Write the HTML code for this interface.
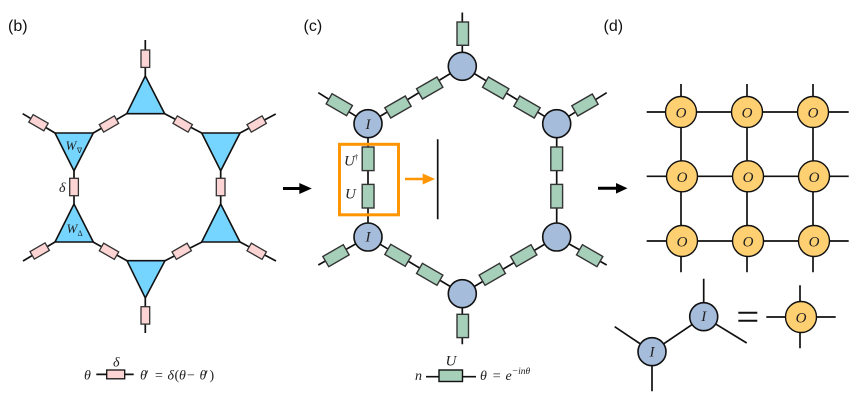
<!DOCTYPE html>
<html>
<head>
<meta charset="utf-8">
<style>
html,body{margin:0;padding:0;background:#fff;}
svg{display:block;}
.l{stroke:#111;stroke-width:1.7;fill:none;}
.tri{fill:#75d5ff;stroke:#111;stroke-width:1.6;stroke-linejoin:miter;}
.p{fill:#fdd4d4;stroke:#333;stroke-width:1.3;}
.g{fill:#a6cfb9;stroke:#333;stroke-width:1.4;}
.b{fill:#a6bcdb;stroke:#111;stroke-width:1.6;}
.o{fill:#ffd071;stroke:#111;stroke-width:1.4;}
.h{font-family:"Liberation Sans",sans-serif;font-size:16px;fill:#111;}
.m{font-family:"Liberation Serif",serif;font-style:italic;fill:#222;font-size:14px;}
.n{font-family:"Liberation Serif",serif;fill:#222;font-size:14px;}
.big{font-size:15px;}
</style>
</head>
<body>
<svg width="856" height="402" viewBox="0 0 856 402" xmlns="http://www.w3.org/2000/svg">
<text class="h" x="8" y="31">(b)</text>
<text class="h" x="303.500" y="31">(c)</text>
<text class="h" x="603.500" y="31">(d)</text>

<!-- panel b lines -->
<path class="l" d="M145.3 40V76M145.3 298V333M74 171V204M220.7 171V204M126.7 113.7L93.3 133M164.7 113.7L201.7 133M55 133L22.7 113.7M240 133L275.7 114M55 242L23 261M93 242L127 260.7M165 260.7L202 242M240 242L276 261"/>
<rect class="p" x="141" y="50" width="8.7" height="17.4"/>
<rect class="p" x="141" y="306.7" width="8.7" height="17.4"/>
<rect class="p" x="69.7" y="178.3" width="8.7" height="17.4"/>
<rect class="p" x="216.3" y="178.3" width="8.7" height="17.4"/>
<rect class="p" x="-8.7" y="-4.35" width="17.4" height="8.7" transform="translate(109 124) rotate(-30)"/>
<rect class="p" x="-8.7" y="-4.35" width="17.4" height="8.7" transform="translate(182.7 124) rotate(30)"/>
<rect class="p" x="-8.7" y="-4.35" width="17.4" height="8.7" transform="translate(38.5 122.7) rotate(30)"/>
<rect class="p" x="-8.7" y="-4.35" width="17.4" height="8.7" transform="translate(256.7 124) rotate(-30)"/>
<rect class="p" x="-8.7" y="-4.35" width="17.4" height="8.7" transform="translate(39.7 251) rotate(-30)"/>
<rect class="p" x="-8.7" y="-4.35" width="17.4" height="8.7" transform="translate(109 251.3) rotate(30)"/>
<rect class="p" x="-8.7" y="-4.35" width="17.4" height="8.7" transform="translate(181.7 251.3) rotate(-30)"/>
<rect class="p" x="-8.7" y="-4.35" width="17.4" height="8.7" transform="translate(256.7 251.3) rotate(30)"/>
<polygon class="tri" points="145.3,76 126.7,113.7 164.7,113.7"/>
<polygon class="tri" points="55,133 93.3,133 74,170.8"/>
<polygon class="tri" points="201.7,133 240,133 220.7,170.8"/>
<polygon class="tri" points="74,204 55,242 93.3,242"/>
<polygon class="tri" points="220.7,204 201.7,242 240,242"/>
<polygon class="tri" points="127,260.7 165,260.7 145.3,298"/>
<text class="m" x="65.5" y="150" style="font-size:13px">W</text>
<text class="n" x="77" y="153" style="font-size:7.500px">∇</text>
<text class="m" x="66.5" y="233" style="font-size:13px">W</text>
<text class="n" x="77.500" y="236" style="font-size:8px">Δ</text>
<text class="m" x="59" y="192">δ</text>

<!-- legend b -->
<text class="m" x="84" y="379.500">θ</text>
<path class="l" d="M96.3 374.4H133.7"/>
<rect class="p" x="106.7" y="370" width="18" height="8.8" style="stroke:#111"/>
<text class="m" x="113" y="366.500">δ</text>
<text class="m" x="140" y="379.500" style="letter-spacing:-2px">θ′</text>
<text class="n" x="155" y="379.500">=</text>
<text class="m" x="167.500" y="379.500">δ</text>
<text class="n" x="174.500" y="379.500">(</text>
<text class="m" x="179" y="379.500">θ</text>
<text class="n" x="187" y="379.500">−</text>
<text class="m" x="199.500" y="379.500" style="letter-spacing:-2px">θ′</text>
<text class="n" x="209.500" y="379.500">)</text>

<!-- black arrows -->
<path d="M283 188.500H300" stroke="#000" stroke-width="3"/>
<polygon points="299.300,183 311.800,188.500 299.300,194" fill="#000"/>
<path d="M598 188.300H617" stroke="#000" stroke-width="3"/>
<polygon points="616,183 627.500,188.300 616,193.600" fill="#000"/>

<!-- panel c lines -->
<path class="l" d="M462.300 12.500V66.300M462.300 293.700V344.300M368 123.700V237M556.700 123.700V237M368 123.700L462.300 66.300L556.700 123.700M368 237L462.300 293.700L556.700 237M318.300 92.700L368 123.700M606.700 92.700L556.700 123.700M318.300 265L368 237M606.700 265L556.700 237"/>
<rect class="g" x="457" y="22" width="11.500" height="23.300"/>
<rect class="g" x="457" y="314.300" width="11.500" height="23.300"/>
<rect class="g" x="362.200" y="147" width="11.800" height="23.600"/>
<rect class="g" x="362.200" y="184.400" width="11.800" height="23.600"/>
<rect class="g" x="550.800" y="147" width="11.800" height="23.600"/>
<rect class="g" x="550.800" y="184.400" width="11.800" height="23.600"/>
<rect class="g" x="-11.800" y="-5.900" width="23.600" height="11.800" transform="translate(398 107) rotate(-30)"/>
<rect class="g" x="-11.800" y="-5.900" width="23.600" height="11.800" transform="translate(429.700 88) rotate(-30)"/>
<rect class="g" x="-11.800" y="-5.900" width="23.600" height="11.800" transform="translate(495.700 88) rotate(30)"/>
<rect class="g" x="-11.800" y="-5.900" width="23.600" height="11.800" transform="translate(527 107) rotate(30)"/>
<rect class="g" x="-11.800" y="-5.900" width="23.600" height="11.800" transform="translate(339.300 104.700) rotate(30)"/>
<rect class="g" x="-11.800" y="-5.900" width="23.600" height="11.800" transform="translate(585 105) rotate(-30)"/>
<rect class="g" x="-11.800" y="-5.900" width="23.600" height="11.800" transform="translate(336 255.700) rotate(-30)"/>
<rect class="g" x="-11.800" y="-5.900" width="23.600" height="11.800" transform="translate(398 255.300) rotate(30)"/>
<rect class="g" x="-11.800" y="-5.900" width="23.600" height="11.800" transform="translate(429.700 274.300) rotate(30)"/>
<rect class="g" x="-11.800" y="-5.900" width="23.600" height="11.800" transform="translate(492.300 274.300) rotate(-30)"/>
<rect class="g" x="-11.800" y="-5.900" width="23.600" height="11.800" transform="translate(523.700 255.700) rotate(-30)"/>
<rect class="g" x="-11.800" y="-5.900" width="23.600" height="11.800" transform="translate(589.700 255.700) rotate(30)"/>
<circle class="b" cx="462.300" cy="66.300" r="14"/>
<circle class="b" cx="368" cy="123.700" r="14"/>
<circle class="b" cx="556.700" cy="123.700" r="14"/>
<circle class="b" cx="368" cy="237" r="14"/>
<circle class="b" cx="556.700" cy="237" r="14"/>
<circle class="b" cx="462.300" cy="293.700" r="14"/>
<text class="m big" x="368" y="129" text-anchor="middle">I</text>
<text class="m big" x="368" y="241.500" text-anchor="middle">I</text>
<text class="m big" x="344" y="165.300">U</text>
<text class="n" x="354.300" y="160" style="font-size:8px">†</text>
<text class="m big" x="345" y="198.300">U</text>
<rect x="339.500" y="144.300" width="59" height="70.500" fill="none" stroke="#ff9500" stroke-width="3"/>
<path d="M405 179H424" stroke="#ff9500" stroke-width="2.500"/>
<polygon points="422.700,173.500 435,179 422.700,184.500" fill="#ff9500"/>
<path d="M437.700 139.300V219.300" stroke="#111" stroke-width="1.700"/>

<!-- legend c -->
<text class="m" x="415" y="380">n</text>
<path class="l" d="M426 376.700H476"/>
<rect class="g" x="439" y="370" width="23.500" height="11.500" style="stroke:#111"/>
<text class="m big" x="445.500" y="365.500">U</text>
<text class="m" x="480" y="380">θ</text>
<text class="n" x="492.700" y="380">=</text>
<text class="m" x="505.500" y="380">e</text>
<text class="m" x="511.700" y="374" style="font-size:9.500px">−inθ</text>

<!-- panel d -->
<path class="l" d="M681 84V272.300M747 84V272.300M813 84V272.300M646.700 112H848.700M646.700 176.300H848.700M646.700 241H848.700"/>
<circle class="o" cx="681" cy="112" r="15.500"/>
<circle class="o" cx="747" cy="112" r="15.500"/>
<circle class="o" cx="813" cy="112" r="15.500"/>
<circle class="o" cx="682" cy="176.300" r="15.500"/>
<circle class="o" cx="748" cy="176.300" r="15.500"/>
<circle class="o" cx="814" cy="176.300" r="15.500"/>
<circle class="o" cx="682" cy="241" r="15.500"/>
<circle class="o" cx="748" cy="241" r="15.500"/>
<circle class="o" cx="814" cy="241" r="15.500"/>
<text class="m big" x="681" y="117.700" text-anchor="middle">O</text>
<text class="m big" x="747" y="117.700" text-anchor="middle">O</text>
<text class="m big" x="813" y="117.700" text-anchor="middle">O</text>
<text class="m big" x="682" y="182" text-anchor="middle">O</text>
<text class="m big" x="748" y="182" text-anchor="middle">O</text>
<text class="m big" x="814" y="182" text-anchor="middle">O</text>
<text class="m big" x="682" y="246.700" text-anchor="middle">O</text>
<text class="m big" x="748" y="246.700" text-anchor="middle">O</text>
<text class="m big" x="814" y="246.700" text-anchor="middle">O</text>

<path class="l" d="M703.700 278.700V316.700L746.700 343M703.700 316.700L652 351.700L614.700 326.700M652 351.700V391.300"/>
<circle class="b" cx="703.700" cy="316.700" r="14"/>
<circle class="b" cx="652" cy="351.700" r="14"/>
<text class="m big" x="703.700" y="321" text-anchor="middle">I</text>
<text class="m big" x="652" y="356.700" text-anchor="middle">I</text>
<path d="M738.300 312.700H757.300M738.300 320.700H757.300" stroke="#111" stroke-width="2"/>
<path class="l" d="M766.300 317H835.700M800 285.300V348.300"/>
<circle class="o" cx="801" cy="317" r="15.500"/>
<text class="m big" x="801" y="322.700" text-anchor="middle">O</text>
</svg>
</body>
</html>
